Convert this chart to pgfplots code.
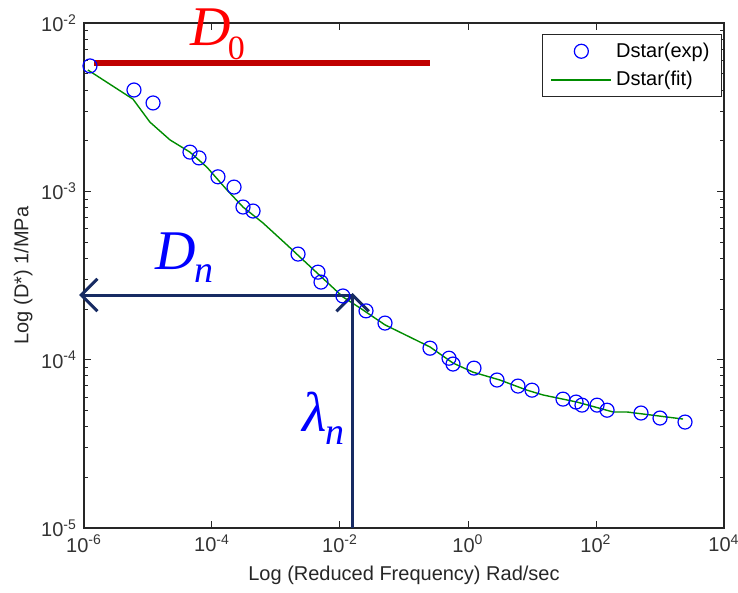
\documentclass[border=0pt]{standalone}
\usepackage{pgfplots}
\pgfplotsset{compat=1.18}
\usepackage{fontspec}
\setmainfont{Liberation Sans}
\newfontfamily\timesfont{Liberation Serif}
\usetikzlibrary{arrows.meta}
\definecolor{navy}{RGB}{23,43,99}
\definecolor{dred}{RGB}{192,0,0}
\definecolor{mgreen}{RGB}{0,140,0}
\begin{document}
\begin{tikzpicture}
\useasboundingbox (-42pt,-32.5pt) rectangle (327pt,264pt);
\begin{axis}[
  at={(0,0)}, anchor=south west,
  scale only axis, width=320pt, height=252.5pt,
  xmode=log, ymode=log,
  xmin=1e-6, xmax=1e4, ymin=1e-5, ymax=1e-2,
  xtick={1e-6,1e-4,1e-2,1,1e2,1e4},
  xticklabels={10\textsuperscript{-6},10\textsuperscript{-4},10\textsuperscript{-2},10\textsuperscript{0},10\textsuperscript{2},10\textsuperscript{4}},
  ytick={1e-5,1e-4,1e-3,1e-2},
  yticklabels={10\textsuperscript{-5},10\textsuperscript{-4},10\textsuperscript{-3},10\textsuperscript{-2}},
  xminorticks=false,
  tick align=inside,
  major tick length=3.5pt, minor tick length=2.2pt,
  axis line style={black!85, line width=0.6pt},
  every tick/.style={black!85, line width=0.5pt},
  tick label style={font=\fontsize{10}{12}\selectfont, text=black!80},
  xlabel={Log (Reduced Frequency) Rad/sec},
  ylabel={Log (D*) 1/MPa},
  ylabel shift=-2.5pt,
  label style={font=\fontsize{10}{12}\selectfont, text=black!85},
  clip=false,
  legend cell align=left,
  legend style={draw=black!85, line width=0.5pt, at={(1,1)}, anchor=north east,
    xshift=-1pt, yshift=-5.5pt, font=\fontsize{10}{12}\selectfont,
    inner xsep=4pt, inner ysep=2pt, row sep=1.5pt},
  legend image code/.code={\draw[mark repeat=2,mark phase=2,#1] plot coordinates {(0pt,0pt) (15pt,0pt) (30pt,0pt)};},
]
\addplot[only marks, mark=o, mark size=3.5pt, blue, mark options={line width=0.6pt}] coordinates {
(1.24e-6,5.56e-3) (6.04e-6,4.00e-3) (1.20e-5,3.35e-3) (4.53e-5,1.71e-3)
(6.27e-5,1.58e-3) (1.24e-4,1.22e-3) (2.21e-4,1.06e-3) (3.05e-4,8.07e-4)
(4.38e-4,7.64e-4) (2.21e-3,4.24e-4) (4.53e-3,3.31e-4) (5.05e-3,2.89e-4)
(1.11e-2,2.39e-4) (2.55e-2,1.95e-4) (5.05e-2,1.65e-4) (0.255,1.17e-4)
(0.505,1.02e-4) (0.583,9.42e-5) (1.24,8.91e-5) (2.84,7.57e-5)
(6.04,6.97e-5) (10.0,6.59e-5) (30.5,5.83e-5) (48.8,5.60e-5)
(60.4,5.37e-5) (104,5.37e-5) (149,5.01e-5) (505,4.82e-5)
(1000,4.50e-5) (2460,4.26e-5)
};
\addlegendentry{Dstar(exp)}
\addplot[color=mgreen, line width=0.7pt, forget plot] coordinates {
(1.15e-6,5.26e-3) (5.83e-6,3.53e-3) (1.07e-5,2.58e-3) (2.21e-5,2.02e-3)
(4.53e-5,1.71e-3) (8.36e-5,1.39e-3) (1.71e-4,1.02e-3) (3.05e-4,8.07e-4)
(6.26e-4,6.49e-4) (1.49e-3,4.80e-4) (2.37e-3,4.07e-4) (1.11e-2,2.36e-4)
(2.05e-2,2.03e-4) (5.05e-2,1.61e-4) (0.255,1.19e-4) (0.583,9.55e-5)
(1.20,8.43e-5) (3.16,7.57e-5) (8.36,6.59e-5) (14.9,6.17e-5)
(50.5,5.60e-5) (185,4.89e-5) (305,4.89e-5) (2290,4.44e-5)
};
\addlegendimage{draw=mgreen, line width=0.8pt}
\addlegendentry{Dstar(fit)}
\draw[dred, line width=2.6pt] (axis cs:1.43e-6,5.78e-3) -- (axis cs:0.255,5.78e-3);
\draw[navy, line width=1.5pt, -{Straight Barb[scale=1.8]}] (axis cs:1.58e-2,2.42e-4) -- (axis cs:8.4e-7,2.42e-4);
\draw[navy, line width=1.5pt, -{Straight Barb[scale=1.8]}] (axis cs:1.58e-2,1e-5) -- (axis cs:1.58e-2,2.49e-4);
\end{axis}
\node[anchor=base west, inner sep=0pt, text=red] at (53pt,241pt) {\timesfont\fontsize{28}{30}\selectfont\textit{D}\kern-1.5pt\raisebox{-7pt}{\fontsize{17}{17}\selectfont 0}};
\node[anchor=base west, inner sep=0pt, text=blue] at (35.5pt,129pt) {\timesfont\fontsize{28}{30}\selectfont\textit{D}\kern-0.5pt\raisebox{-6.5pt}{\fontsize{19}{19}\selectfont\textit{n}}};
\node[anchor=base west, inner sep=0pt, text=blue] at (109pt,48pt) {\timesfont\fontsize{28}{30}\selectfont\textit{λ}\kern-0.5pt\raisebox{-6.5pt}{\fontsize{19}{19}\selectfont\textit{n}}};
\end{tikzpicture}
\end{document}
